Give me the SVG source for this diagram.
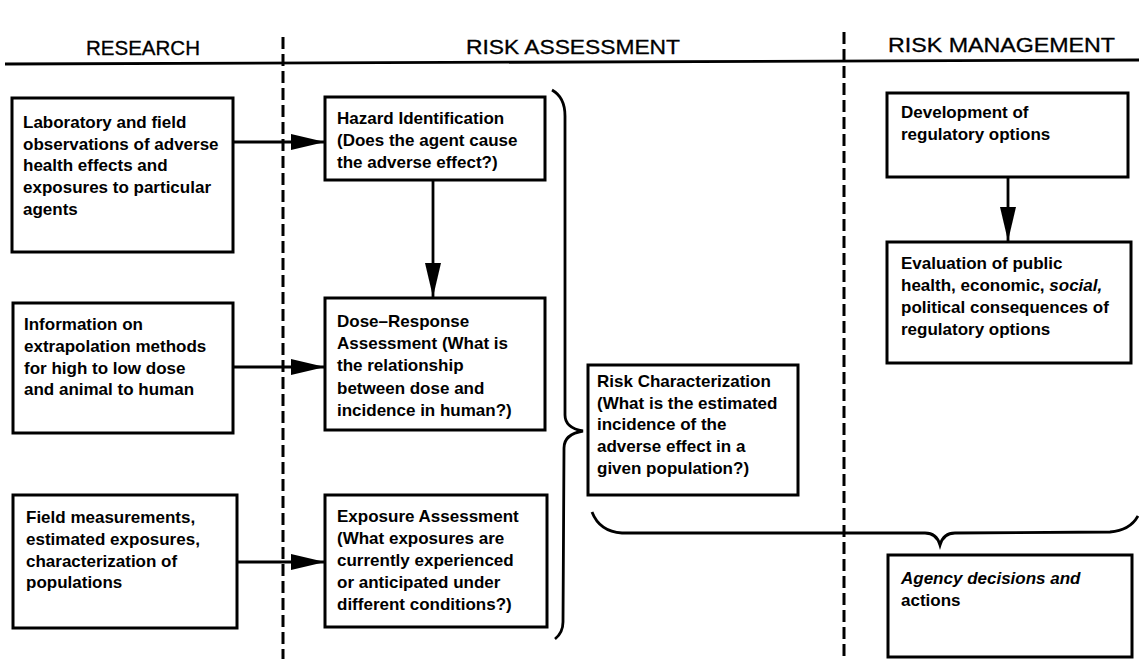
<svg xmlns="http://www.w3.org/2000/svg" width="1139" height="659" viewBox="0 0 1139 659">
<style>
.box{fill:#fff;stroke:#000;stroke-width:3}
.t{font-family:"Liberation Sans",Arial,sans-serif;font-size:17px;font-weight:bold;fill:#000}
.h{font-family:"Liberation Sans",Arial,sans-serif;font-size:20px;fill:#000;stroke:#000;stroke-width:0.3}
.ln{fill:none;stroke:#000;stroke-width:2.8}
.dash{fill:none;stroke:#000;stroke-width:3;stroke-dasharray:12 5}
.br{fill:none;stroke:#000;stroke-width:2.8}
</style>
<defs>
<marker id="ah" markerUnits="userSpaceOnUse" markerWidth="34" markerHeight="18" refX="34" refY="8" orient="auto">
<polygon points="0,0 34,8 0,16" fill="#000"/>
</marker>
</defs>
<rect width="1139" height="659" fill="#fff"/>
<g id="header">
<text class="h" x="86" y="55" textLength="114" lengthAdjust="spacingAndGlyphs">RESEARCH</text>
<text class="h" x="466" y="54" textLength="214" lengthAdjust="spacingAndGlyphs">RISK ASSESSMENT</text>
<text class="h" x="888" y="52" textLength="227" lengthAdjust="spacingAndGlyphs">RISK MANAGEMENT</text>
<path class="ln" d="M5,64 L1139,60"/>
<path class="dash" d="M283,37 L283,659"/>
<path class="dash" d="M844,32 L844,659"/>
</g>
<g id="research1">
<rect class="box" x="12" y="98" width="221" height="154"/>
<text class="t" x="23" y="128">Laboratory and field</text>
<text class="t" x="23" y="150">observations of adverse</text>
<text class="t" x="23" y="171">health effects and</text>
<text class="t" x="23" y="193">exposures to particular</text>
<text class="t" x="23" y="215">agents</text>
</g>
<g id="research2">
<rect class="box" x="13" y="303" width="220" height="130"/>
<text class="t" x="24" y="330">Information on</text>
<text class="t" x="24" y="352">extrapolation methods</text>
<text class="t" x="24" y="374">for high to low dose</text>
<text class="t" x="24" y="395">and animal to human</text>
</g>
<g id="research3">
<rect class="box" x="13" y="495" width="224" height="133"/>
<text class="t" x="26" y="523">Field measurements,</text>
<text class="t" x="26" y="545">estimated exposures,</text>
<text class="t" x="26" y="567">characterization of</text>
<text class="t" x="26" y="588">populations</text>
</g>
<g id="hazard">
<rect class="box" x="325" y="97" width="220" height="83"/>
<text class="t" x="337" y="124">Hazard Identification</text>
<text class="t" x="337" y="146">(Does the agent cause</text>
<text class="t" x="337" y="168">the adverse effect?)</text>
</g>
<g id="dose">
<rect class="box" x="325" y="298" width="220" height="132"/>
<text class="t" x="337" y="327">Dose–Response</text>
<text class="t" x="337" y="349">Assessment (What is</text>
<text class="t" x="337" y="371">the relationship</text>
<text class="t" x="337" y="394">between dose and</text>
<text class="t" x="337" y="416">incidence in human?)</text>
</g>
<g id="exposure">
<rect class="box" x="325" y="495" width="222" height="132"/>
<text class="t" x="337" y="522">Exposure Assessment</text>
<text class="t" x="337" y="544">(What exposures are</text>
<text class="t" x="337" y="566">currently experienced</text>
<text class="t" x="337" y="588">or anticipated under</text>
<text class="t" x="337" y="610">different conditions?)</text>
</g>
<g id="riskchar">
<rect class="box" x="588" y="365" width="210" height="130"/>
<text class="t" x="597" y="387">Risk Characterization</text>
<text class="t" x="597" y="409">(What is the estimated</text>
<text class="t" x="597" y="430">incidence of the</text>
<text class="t" x="597" y="452">adverse effect in a</text>
<text class="t" x="597" y="474">given population?)</text>
</g>
<g id="devopts">
<rect class="box" x="887" y="93" width="241" height="84"/>
<text class="t" x="901" y="118">Development of</text>
<text class="t" x="901" y="140">regulatory options</text>
</g>
<g id="evaluation">
<rect class="box" x="887" y="242" width="244" height="121"/>
<text class="t" x="901" y="269">Evaluation of public</text>
<text class="t" x="901" y="291">health, economic, <tspan font-style="italic">social,</tspan></text>
<text class="t" x="901" y="313">political consequences of</text>
<text class="t" x="901" y="335">regulatory options</text>
</g>
<g id="agency">
<rect class="box" x="888" y="555" width="244" height="102"/>
<text class="t" x="901" y="584" font-style="italic">Agency decisions and</text>
<text class="t" x="901" y="606">actions</text>
</g>
<g id="connectors">
<path class="ln" d="M233,142 L325,142" marker-end="url(#ah)"/>
<path class="ln" d="M233,367 L325,367" marker-end="url(#ah)"/>
<path class="ln" d="M237,562 L325,562" marker-end="url(#ah)"/>
<path class="ln" d="M433,180 L433,297" marker-end="url(#ah)"/>
<path class="ln" d="M1008,177 L1008,241" marker-end="url(#ah)"/>
<path class="br" d="M552,90 C561,95 565,104 565,116 L565,415 C565,424 571,429 583,431 C571,433 564,438 564,448 L563,622 C563,630 560,635 555,639"/>
<path class="br" d="M592,512 C597,525 606,532 622,533 L925,533 C933,533 938,538 940,545 C942,538 947,533 955,533 L1110,532 C1124,531 1133,525 1138,516"/>
</g>
</svg>
